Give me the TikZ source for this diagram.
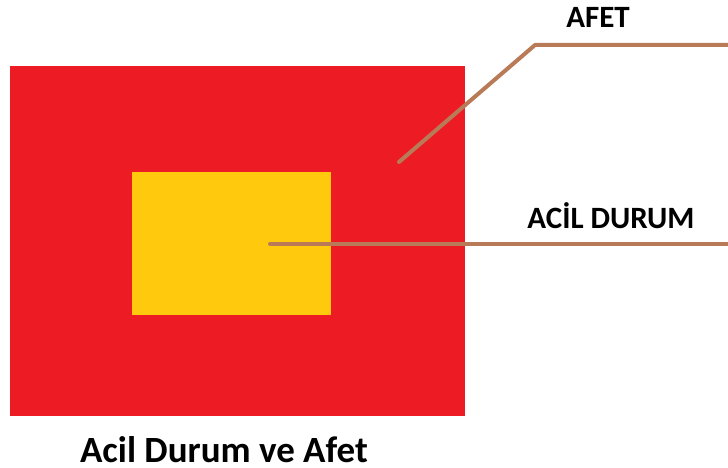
\documentclass[tikz,border=0pt]{standalone}
\usepackage{fontspec}
\setmainfont{Carlito}
\definecolor{pred}{HTML}{ED1C24}
\definecolor{pyel}{HTML}{FFC90E}
\definecolor{pbrown}{HTML}{B97A57}
\begin{document}
\begin{tikzpicture}[x=1pt,y=-1pt,
  lbl/.style={font=\bfseries\fontsize{31}{33}\selectfont, inner sep=0pt, anchor=base},
  leader/.style={draw=pbrown, line width=4pt, line cap=round, line join=round}]
\useasboundingbox (0,0) rectangle (728,468);
\fill[pred] (10,66) rectangle (465,416);
\fill[pyel] (132,172) rectangle (331,315);
\coordinate (afetin) at (399,162);
\coordinate (afetknee) at (535,45);
\coordinate (afetend) at (732,45);
\coordinate (acilin) at (270,243.5);
\coordinate (acilend) at (732,243.5);
\draw[leader] (afetin) -- (afetknee) -- (afetend);
\draw[leader] (acilin) -- (acilend);
\node[lbl] (afet) at (598,27.5) {AFET};
\node[lbl] (acil) at (611,228) {ACİL DURUM};
\node[lbl, font=\bfseries\fontsize{37}{39}\selectfont] (title) at (224,462.5) {Acil Durum ve Afet};
\end{tikzpicture}
\end{document}
